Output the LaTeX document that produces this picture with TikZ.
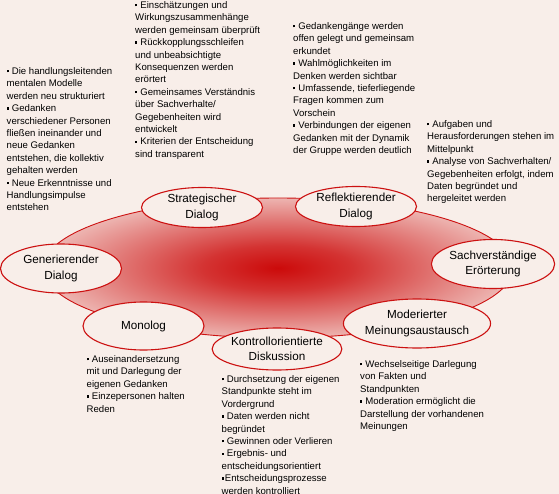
\documentclass[tikz,border=0pt]{standalone}
\usepackage{fontspec}
\setmainfont{Liberation Sans}
\usepackage{xcolor}
\usepackage{tikz}
\usetikzlibrary{shapes.geometric}
\definecolor{paper}{HTML}{F8EEE9}
\definecolor{rot}{HTML}{CC0A0A}
\definecolor{rand}{HTML}{CC1111}
\colorlet{rotA}{rot!82!paper}
\colorlet{rotB}{rot!52!paper}
\colorlet{rotC}{rot!22!paper}
\colorlet{rotD}{rot!5!paper}
\pgfdeclareradialshading{glut}{\pgfpoint{0bp}{0bp}}{color(0bp)=(rot); color(8bp)=(rotA); color(17bp)=(rotB); color(26bp)=(rotC); color(35bp)=(rotD); color(50bp)=(paper)}
\newcommand{\bul}{\raisebox{0.22em}{\rule{2.2pt}{2.2pt}}\hspace{3pt}}
\tikzset{modus/.style={ellipse,draw=rand,line width=1.1pt,fill=paper,inner sep=0pt,minimum width=121pt,align=center,font=\fontsize{11.7}{15.2}\selectfont},
  notiz/.style={anchor=north west,inner sep=0pt,align=left,font=\fontsize{9.6}{12.4}\selectfont}}

\begin{document}
\begin{tikzpicture}[x=1pt,y=-1pt]
\fill[paper] (0,0) rectangle (559,494);
\useasboundingbox (0,0) rectangle (559,494);
% ring in the middle
\shade[shading=glut] (278,268) ellipse (235 and 70);
\draw[rand,line width=0.9pt] (278,268) ellipse (235 and 70);
% the seven forms
\node[modus,minimum height=40pt] (strat) at (202,207.5) {Strategischer\\Dialog};
\node[modus,minimum height=40pt] (reflekt) at (356,206.5) {Reflektierender\\Dialog};
\node[modus,minimum height=49pt] (sach) at (493,264) {Sachverständige\\Erörterung};
\node[modus,minimum height=49pt] (moder) at (417,323.5) {Moderierter\\Meinungsaustausch};
\node[modus,minimum height=42pt] (kontr) at (277,349) {Kontrollorientierte\\Diskussion};
\node[modus,minimum height=48pt] (mono) at (143.5,326) {Monolog};
\node[modus,minimum height=49pt] (gener) at (61,268.5) {Generierender\\Dialog};
% notes
\node[notiz] (nGener) at (6.5,67.3) {\bul Die handlungsleitenden\\mentalen Modelle\\werden neu strukturiert\\\bul Gedanken\\verschiedener Personen\\fließen ineinander und\\neue Gedanken\\entstehen, die kollektiv\\gehalten werden\\\bul Neue Erkenntnisse und\\Handlungsimpulse\\entstehen};
\node[notiz] (nStrat) at (135,1.3) {\bul Einschätzungen und\\Wirkungszusammenhänge\\werden gemeinsam überprüft\\\bul Rückkopplungsschleifen\\und unbeabsichtigte\\Konsequenzen werden\\erörtert\\\bul Gemeinsames Verständnis\\über Sachverhalte/\\Gegebenheiten wird\\entwickelt\\\bul Kriterien der Entscheidung\\sind transparent};
\node[notiz] (nReflekt) at (293,22.3) {\bul Gedankengänge werden\\offen gelegt und gemeinsam\\erkundet\\\bul Wahlmöglichkeiten im\\Denken werden sichtbar\\\bul Umfassende, tieferliegende\\Fragen kommen zum\\Vorschein\\\bul Verbindungen der eigenen\\Gedanken mit der Dynamik\\der Gruppe werden deutlich};
\node[notiz] (nSach) at (427,120.3) {\bul Aufgaben und\\Herausforderungen stehen im\\Mittelpunkt\\\bul Analyse von Sachverhalten/\\Gegebenheiten erfolgt, indem\\Daten begründet und\\hergeleitet werden};
\node[notiz] (nMono) at (86.5,355.3) {\bul Auseinandersetzung\\mit und Darlegung der\\eigenen Gedanken\\\bul Einzepersonen halten\\Reden};
\node[notiz] (nKontr) at (221.5,375.3) {\bul Durchsetzung der eigenen\\Standpunkte steht im\\Vordergrund\\\bul Daten werden nicht\\begründet\\\bul Gewinnen oder Verlieren\\\bul Ergebnis- und\\entscheidungsorientiert\\\bul\hspace{-2pt}Entscheidungsprozesse\\werden kontrolliert};
\node[notiz] (nModer) at (360,360.3) {\bul Wechselseitige Darlegung\\von Fakten und\\Standpunkten\\\bul Moderation ermöglicht die\\Darstellung der vorhandenen\\Meinungen};
\end{tikzpicture}
\end{document}
